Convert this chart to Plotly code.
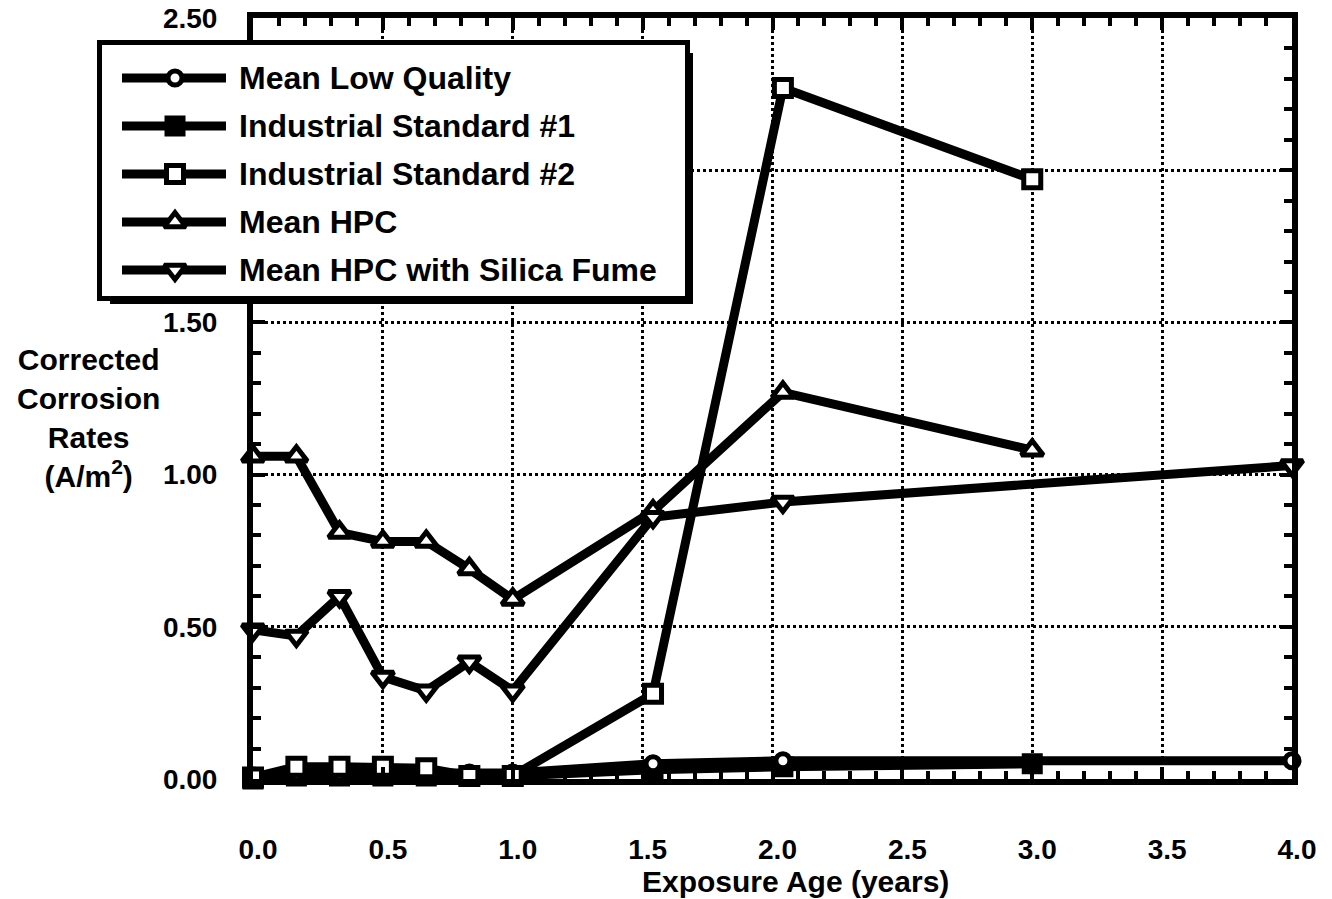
import plotly.graph_objects as go

# ---- data -------------------------------------------------------------
# exposure ages (years) at which each series was measured
age_to_3yr = [0.0, 0.167, 0.333, 0.5, 0.667, 0.833, 1.0, 1.54, 2.04, 3.0]
age_to_4yr = [0.0, 0.167, 0.333, 0.5, 0.667, 0.833, 1.0, 1.54, 2.04, 4.0]

# corrected corrosion rates (A/m^2)
mean_low_quality = [0.01, 0.02, 0.02, 0.02, 0.02, 0.02, 0.02, 0.05, 0.06, 0.06]
industrial_std_1 = [0.0, 0.01, 0.01, 0.01, 0.01, 0.01, 0.01, 0.03, 0.04, 0.05]
industrial_std_2 = [0.005, 0.04, 0.04, 0.04, 0.035, 0.01, 0.01, 0.28, 2.27, 1.97]
mean_hpc = [1.06, 1.06, 0.81, 0.78, 0.78, 0.69, 0.59, 0.88, 1.27, 1.08]
mean_hpc_silica = [0.49, 0.47, 0.60, 0.335, 0.29, 0.385, 0.29, 0.86, 0.91, 1.03]

series_names = [
    "Mean Low Quality",
    "Industrial Standard #1",
    "Industrial Standard #2",
    "Mean HPC",
    "Mean HPC with Silica Fume",
]

x_ticks = [0.0, 0.5, 1.0, 1.5, 2.0, 2.5, 3.0, 3.5, 4.0]
x_tick_text = ["0.0", "0.5", "1.0", "1.5", "2.0", "2.5", "3.0", "3.5", "4.0"]
y_ticks = [0.0, 0.5, 1.0, 1.5, 2.0, 2.5]
y_tick_text = ["0.00", "0.50", "1.00", "1.50", "2.00", "2.50"]

# ---- page geometry (pixels) -------------------------------------------
W, H = 1332, 899


def fx(p):
    return p / W


def fy(p):
    return 1 - p / H


FONT = "Liberation Sans, Arial, Helvetica, sans-serif"
BLACK = "black"
LINE_W = 9
EDGE_W = 5

styles = {
    "Mean Low Quality": dict(symbol="circle", color="white", size=14),
    "Industrial Standard #1": dict(symbol="square", color="black", size=16),
    "Industrial Standard #2": dict(symbol="square", color="white", size=17),
    "Mean HPC": dict(symbol="triangle-up", color="white", size=19),
    "Mean HPC with Silica Fume": dict(symbol="triangle-down", color="white", size=19),
}

series = {
    "Mean Low Quality": (age_to_4yr, mean_low_quality),
    "Industrial Standard #1": (age_to_3yr, industrial_std_1),
    "Industrial Standard #2": (age_to_3yr, industrial_std_2),
    "Mean HPC": (age_to_3yr, mean_hpc),
    "Mean HPC with Silica Fume": (age_to_4yr, mean_hpc_silica),
}

fig = go.Figure()

draw_order = [
    "Industrial Standard #1",
    "Mean Low Quality",
    "Mean HPC",
    "Mean HPC with Silica Fume",
    "Industrial Standard #2",
]
for name in draw_order:
    xs, ys = series[name]
    st = styles[name]
    fig.add_trace(
        go.Scatter(
            x=xs,
            y=ys,
            name=name,
            mode="lines+markers",
            line=dict(color=BLACK, width=LINE_W),
            marker=dict(
                symbol=st["symbol"],
                size=st["size"],
                color=st["color"],
                line=dict(color=BLACK, width=EDGE_W),
            ),
            cliponaxis=False,
            showlegend=False,
            xaxis="x",
            yaxis="y",
        )
    )

# ---- key box drawn as an inset panel -----------------------------------
key_left, key_right, key_top, key_bottom = 102, 685, 45, 296
row_first, row_step = 78, 48
line_x = [122, 226]
mark_x = 175
text_x = 237

key_rows = list(range(1, len(series_names) + 1))
y2_top = 1 - (row_first - key_top) / row_step
y2_bottom = 1 + (key_bottom - row_first) / row_step

annotations = []
for row, name in zip(key_rows, series_names):
    st = styles[name]
    fig.add_trace(
        go.Scatter(
            x=line_x,
            y=[row, row],
            mode="lines",
            line=dict(color=BLACK, width=LINE_W),
            showlegend=False,
            hoverinfo="skip",
            xaxis="x2",
            yaxis="y2",
        )
    )
    fig.add_trace(
        go.Scatter(
            x=[mark_x],
            y=[row],
            mode="markers",
            marker=dict(
                symbol=st["symbol"],
                size=st["size"],
                color=st["color"],
                line=dict(color=BLACK, width=EDGE_W),
            ),
            showlegend=False,
            hoverinfo="skip",
            xaxis="x2",
            yaxis="y2",
        )
    )
    annotations.append(
        dict(
            x=text_x,
            y=row,
            xref="x2",
            yref="y2",
            text=name,
            showarrow=False,
            xanchor="left",
            yanchor="middle",
            font=dict(family=FONT, size=32, color=BLACK, weight="bold"),
        )
    )

# y-axis title (horizontal, stacked)
annotations.append(
    dict(
        x=fx(88),
        y=fy(418),
        xref="paper",
        yref="paper",
        text="Corrected<br>Corrosion<br>Rates<br>(A/m<sup>2</sup>)",
        showarrow=False,
        xanchor="center",
        yanchor="middle",
        align="center",
        font=dict(family=FONT, size=30, color=BLACK, weight="bold"),
    )
)
# x-axis title
annotations.append(
    dict(
        x=fx(795),
        y=fy(881),
        xref="paper",
        yref="paper",
        text="Exposure Age (years)",
        showarrow=False,
        xanchor="center",
        yanchor="middle",
        font=dict(family=FONT, size=30, color=BLACK, weight="bold"),
    )
)

# drop shadow of the key box
shapes = [
    dict(type="rect", xref="paper", yref="paper",
         x0=fx(key_right), x1=fx(key_right + 8), y0=fy(key_top + 8), y1=fy(key_bottom + 8),
         fillcolor=BLACK, line=dict(width=0), layer="above"),
    dict(type="rect", xref="paper", yref="paper",
         x0=fx(key_left + 8), x1=fx(key_right + 8), y0=fy(key_bottom), y1=fy(key_bottom + 8),
         fillcolor=BLACK, line=dict(width=0), layer="above"),
]

tick_font = dict(family=FONT, size=28, color=BLACK, weight="bold")

common_main = dict(
    tickmode="array",
    tickfont=tick_font,
    ticks="inside",
    ticklen=12,
    tickwidth=4,
    tickcolor=BLACK,
    showline=True,
    linewidth=6,
    linecolor=BLACK,
    mirror="allticks",
    showgrid=True,
    gridcolor=BLACK,
    gridwidth=3,
    griddash="dot",
    zeroline=False,
    automargin=False,
    minor=dict(dtick=0.1, ticks="inside", ticklen=8, tickwidth=4,
               tickcolor=BLACK, showgrid=False),
)

common_key = dict(
    showgrid=False,
    zeroline=False,
    showticklabels=False,
    ticks="",
    showline=True,
    linewidth=5,
    linecolor=BLACK,
    mirror=True,
    fixedrange=True,
    automargin=False,
)

fig.update_layout(
    template="none",
    width=W,
    height=H,
    autosize=False,
    margin=dict(l=0, r=0, t=0, b=0, pad=0),
    paper_bgcolor="white",
    plot_bgcolor="white",
    showlegend=False,
    annotations=annotations,
    shapes=shapes,
    xaxis=dict(
        domain=[fx(253), fx(1292)],
        range=[0, 4],
        tickvals=x_ticks,
        ticktext=x_tick_text,
        ticklabelstandoff=40,
        ticklabelshift=5,
        **common_main,
    ),
    yaxis=dict(
        domain=[fy(779), fy(18)],
        range=[0, 2.5],
        tickvals=y_ticks,
        ticktext=y_tick_text,
        ticklabelstandoff=24,
        **common_main,
    ),
    xaxis2=dict(
        domain=[fx(key_left), fx(key_right)],
        range=[key_left, key_right],
        anchor="y2",
        **common_key,
    ),
    yaxis2=dict(
        domain=[fy(key_bottom), fy(key_top)],
        range=[y2_bottom, y2_top],
        anchor="x2",
        **common_key,
    ),
)

fig.write_html("out.html")
